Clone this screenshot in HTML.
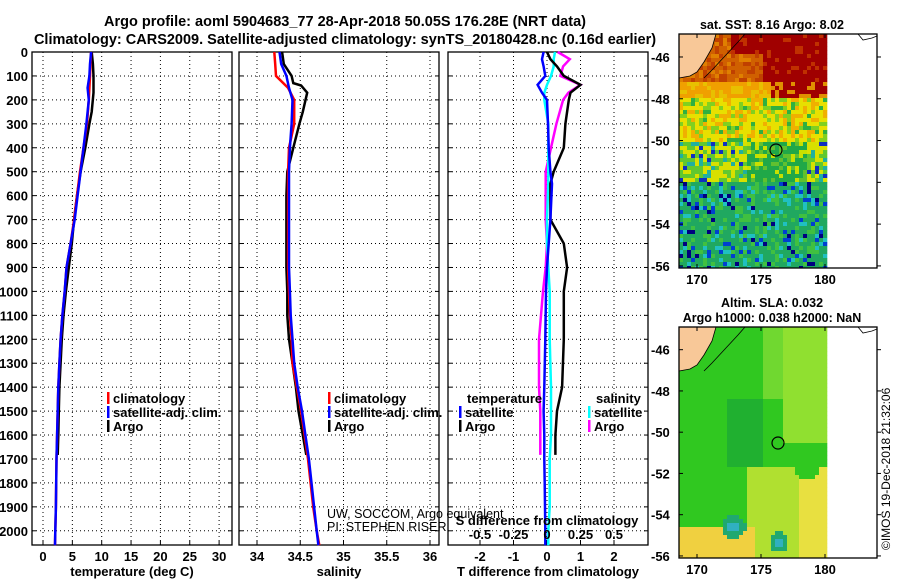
<!DOCTYPE html>
<html><head><meta charset="utf-8">
<style>
html,body{margin:0;padding:0;background:#fff;}
svg{display:block;font-family:"Liberation Sans",Arial,sans-serif;}
</style></head>
<body>
<svg id="fig" width="900" height="580" viewBox="0 0 900 580">
<text font-weight="bold" x="345" y="26" font-size="14.5" text-anchor="middle">Argo profile: aoml 5904683_77 28-Apr-2018 50.05S 176.28E (NRT data)</text>
<text font-weight="bold" x="345" y="44" font-size="14.5" text-anchor="middle">Climatology: CARS2009. Satellite-adjusted climatology: synTS_20180428.nc (0.16d earlier)</text>
<g id="plots"></g>
<g id="maps"></g>
<text x="890" y="550" font-size="12" transform="rotate(-90 890 550)">©IMOS 19-Dec-2018 21:32:06</text>
</svg>
<script>
// ---- data ----
const depthTicks=[0,100,200,300,400,500,600,700,800,900,1000,1100,1200,1300,1400,1500,1600,1700,1800,1900,2000];
const tTicks=[0,5,10,15,20,25,30];
const sTicks=[34,34.5,35,35.5,36];
const dTTicks=[-2,-1,0,1,2];
const dSTicks=[-0.5,-0.25,0,0.25,0.5];
const dSTickLabels=["-0.5","-0.25","0","0.25","0.5"];
const climDepth=[0,50,100,150,200,300,400,500,600,700,800,900,1000,1100,1200,1300,1400,1500,1600,1700,1800,1900,2000,2060];
const tempClim=[8.2,8.1,8.0,7.9,7.8,7.5,6.9,6.3,5.8,5.3,4.7,4.0,3.7,3.3,3.0,2.8,2.6,2.5,2.4,2.3,2.25,2.2,2.1,2.05];
const tempSat=[8.2,8.0,7.9,7.6,7.8,7.4,6.9,6.4,5.9,5.4,4.7,4.0,3.7,3.3,3.0,2.8,2.6,2.5,2.4,2.3,2.25,2.2,2.1,2.05];
const salClim=[34.2,34.21,34.22,34.36,34.43,34.43,34.37,34.36,34.36,34.36,34.36,34.36,34.37,34.38,34.4,34.41,34.46,34.51,34.55,34.59,34.62,34.65,34.69,34.72];
const salSat=[34.26,34.28,34.34,34.37,34.41,34.4,34.38,34.37,34.37,34.37,34.37,34.37,34.38,34.39,34.41,34.43,34.47,34.52,34.56,34.6,34.63,34.66,34.69,34.71];
const argoDepth=[0,50,100,130,140,170,250,300,400,500,600,700,800,900,1000,1100,1200,1300,1400,1500,1600,1683];
const tempArgo=[8.3,8.5,8.6,8.6,8.6,8.6,8.3,7.9,7.2,6.4,5.8,5.3,4.9,4.4,3.9,3.5,3.2,3.0,2.8,2.7,2.6,2.5];
const salArgo=[34.29,34.31,34.4,34.42,34.51,34.58,34.53,34.49,34.42,34.35,34.34,34.34,34.34,34.34,34.35,34.35,34.37,34.41,34.45,34.48,34.53,34.57];
const diffDepth=[0,30,60,100,137,170,200,300,400,500,550,700,800,900,1000,1200,1400,1500,1600,1683];
const dTargo=[0,0.1,0.3,0.5,1.0,0.7,0.65,0.55,0.5,0.2,0.1,0.1,0.5,0.6,0.5,0.5,0.45,0.3,0.25,0.25];
const dSargo=[0.08,0.17,0.12,0.1,0.25,0.16,0.12,0.07,0.03,-0.01,-0.01,-0.01,0,-0.01,-0.03,-0.06,-0.06,-0.05,-0.05,-0.05];
const satDiffDepth=[0,30,60,100,137,170,200,300,400,500,550,700,800,900,1000,1200,1400,1500,1600,1700,1800,1900,2000,2060];
const dTsat=[-0.1,-0.15,-0.1,-0.05,-0.28,-0.15,0,0.03,0.05,0.1,0.15,0.1,0.05,0,-0.03,-0.05,-0.08,-0.1,-0.08,-0.08,-0.07,-0.06,-0.05,-0.05];
const dSsat=[0.06,0.05,0.05,0.03,0.0,-0.02,-0.02,0.01,0.01,0.01,0.01,0.0,0.0,0.01,0.02,0.02,0.03,0.03,0.03,0.02,0.02,0.02,0.01,0.01];
const lonTicks=[170,175,180];
const latTicks=[-46,-48,-50,-52,-54,-56];

const NS="http://www.w3.org/2000/svg";
function mk(tag,attrs,parent){const e=document.createElementNS(NS,tag);for(const k in attrs)e.setAttribute(k,attrs[k]);parent.appendChild(e);return e;}
const plots=document.getElementById('plots');
const TOP=52,BOT=545;
const yD=d=>TOP+d*0.2394;
const xT=t=>43+5.87*t;
const xS=s=>257+86.5*(s-34);
const xDT=t=>547+33.5*t;
const xDS=s=>547+134*s;

function panel(name,L,R,ticks,xf,xlabel,showDepth){
  const g=mk('g',{},plots);
  
  
  depthTicks.forEach(d=>{
    const y=yD(d);
    const l=mk('line',{x1:L,x2:R,y1:y,y2:y,stroke:'#000','stroke-width':1,'stroke-dasharray':'1,3'},g);
    
    
    mk('line',{x1:L,x2:L+4,y1:y,y2:y,stroke:'#000'},g);
    mk('line',{x1:R-4,x2:R,y1:y,y2:y,stroke:'#000'},g);
    if(showDepth){
      const t=mk('text',{x:L-4,y:y+5,'font-size':13,'font-weight':'bold','text-anchor':'end'},g);
      t.textContent=d;
      
      
    }
  });
  ticks.forEach(v=>{
    const x=xf(v);
    const l=mk('line',{x1:x,x2:x,y1:TOP,y2:BOT,stroke:'#000','stroke-dasharray':'1,3'},g);
    
    
    mk('line',{x1:x,x2:x,y1:BOT-4,y2:BOT,stroke:'#000'},g);
    const t=mk('text',{x:x,y:BOT+16,'font-size':13,'font-weight':'bold','text-anchor':'middle'},g);
    t.textContent=v;
    
    
  });
  const r=mk('rect',{x:L,y:TOP,width:R-L,height:BOT-TOP,fill:'none',stroke:'#000','stroke-width':1.3},g);
  
  
  const xl=mk('text',{x:(L+R)/2,y:576,'font-size':13,'font-weight':'bold','text-anchor':'middle'},g);
  xl.textContent=xlabel;
  
  
  return g;
}
function line(g,depths,vals,xf,color,name){
  const pts=depths.map((d,i)=>xf(vals[i]).toFixed(1)+','+yD(d).toFixed(1)).join(' ');
  const p=mk('polyline',{points:pts,fill:'none',stroke:color,'stroke-width':2.5},g);
  
  
}
function legend(g,x,y,items,header){
  if(header){const h=mk('text',{x:x+8,y:y,'font-size':13,'font-weight':'bold'},g);h.textContent=header;y+=14;}
  items.forEach(it=>{
    mk('rect',{x:x,y:y-11,width:2.5,height:12,fill:it[1]},g);
    const t=mk('text',{x:x+6,y:y,'font-size':13,'font-weight':'bold'},g);
    t.textContent=it[0];
    
    
    y+=14;
  });
}
const p1=panel('temperature-panel',32,232,tTicks,xT,'temperature (deg C)',true);
line(p1,argoDepth,tempArgo,xT,'#000','temp-argo-line');
line(p1,climDepth,tempClim,xT,'#f00','temp-climatology-line');
line(p1,climDepth,tempSat,xT,'#00f','temp-satellite-line');
legend(p1,107,403,[['climatology','#f00'],['satellite-adj. clim.','#00f'],['Argo','#000']]);

const p2=panel('salinity-panel',239,439,sTicks,xS,'salinity',false);
line(p2,argoDepth,salArgo,xS,'#000','sal-argo-line');
line(p2,climDepth,salClim,xS,'#f00','sal-climatology-line');
line(p2,climDepth,salSat,xS,'#00f','sal-satellite-line');
legend(p2,328,403,[['climatology','#f00'],['satellite-adj. clim.','#00f'],['Argo','#000']]);
const c1=mk('text',{x:327,y:518,'font-size':12.5},p2);c1.textContent='UW, SOCCOM, Argo equivalent';

const c2=mk('text',{x:327,y:531,'font-size':12.5},p2);c2.textContent='PI: STEPHEN RISER';

const p3=panel('difference-panel',448,648,dTTicks,xDT,'T difference from climatology',false);
line(p3,diffDepth,dSargo,xDS,'#f0f','s-diff-argo-line');
line(p3,satDiffDepth,dSsat,xDS,'#0ff','s-diff-satellite-line');
line(p3,diffDepth,dTargo,xDT,'#000','t-diff-argo-line');
line(p3,satDiffDepth,dTsat,xDT,'#00f','t-diff-satellite-line');
legend(p3,459,403,[['satellite','#00f'],['Argo','#000']],'temperature');
legend(p3,588,403,[['satellite','#0ff'],['Argo','#f0f']],'salinity');
const sd=mk('text',{x:547,y:525,'font-size':13,'font-weight':'bold','text-anchor':'middle'},p3);sd.textContent='S difference from climatology';

dSTicks.forEach((v,i)=>{const t=mk('text',{x:xDS(v),y:539,'font-size':13,'font-weight':'bold','text-anchor':'middle'},p3);t.textContent=dSTickLabels[i];
});

// ---- maps ----
const maps=document.getElementById('maps');
function hash(a,b){let h=(a*374761393+b*668265263)^0x5bd1e995;h=(h^(h>>>13))*1274126177;return ((h^(h>>>16))>>>0)/4294967296;}
function mapPanel(name,top,bot,titles,cellColor,cx,cy){
  const g=mk('g',{},maps);
  
  
  const L=679,R=877,DR=826;
  const latY=lat=>top+(-44.9-lat)*(bot-top)/11.2;
  const lonX=lon=>697+(lon-170)*12.8;
  titles.forEach((t,i)=>{const e=mk('text',{x:772,y:top-(titles.length-i)*15+10,'font-size':12.5,'font-weight':'bold','text-anchor':'middle'},g);e.textContent=t;
    });
  const cs=4;
  for(let y=top;y<bot;y+=cs){for(let x=L;x<DR;x+=cs){
    mk('rect',{x:x,y:y,width:cs+0.3,height:Math.min(cs+0.3,bot-y),fill:cellColor((x-L)/(DR-L),(y-top)/(bot-top),x,y)},g);
  }}
  mk('path',{d:`M${L},${top} L716,${top} L712,${top+14} L704,${top+28} L697,${top+38} L690,${top+42} L679,${top+44} Z`,fill:'#f8c898',stroke:'#000','stroke-width':0.8},g);
  mk('path',{d:`M716,${top} L745,${top} L738,${top+8} L725,${top+22} L712,${top+36} L704,${top+44}`,fill:'none',stroke:'#000','stroke-width':0.8},g);
  mk('path',{d:`M858,${top} L863,${top+6} L872,${top+4} L877,${top+2}`,fill:'none',stroke:'#000','stroke-width':0.8},g);
  const ring=mk('circle',{cx:cx,cy:cy,r:6,fill:'none',stroke:'#000','stroke-width':1.2},g);
  
  mk('rect',{x:L,y:top,width:R-L,height:bot-top,fill:'none',stroke:'#000','stroke-width':1.3},g);
  latTicks.forEach(l=>{const y=latY(l);mk('line',{x1:R,x2:R+4,y1:y,y2:y,stroke:'#000'},g);mk('line',{x1:L,x2:L+4,y1:y,y2:y,stroke:'#000'},g);
    const lt=mk('text',{x:651,y:y+5,'font-size':13,'font-weight':'bold'},g);lt.textContent=l;
    
  });
  lonTicks.forEach(l=>{const x=lonX(l);mk('line',{x1:x,x2:x,y1:bot-4,y2:bot,stroke:'#000'},g);mk('line',{x1:x,x2:x,y1:top,y2:top+4,stroke:'#000'},g);
    const t=mk('text',{x:x,y:bot+16,'font-size':13,'font-weight':'bold','text-anchor':'middle'},g);t.textContent=l;
    });
}
function sstColor(fx,fy,x,y){
  const h=hash(x,y);
  if(fy<0.2){ if(fx>0.55||fy<0.08&&fx>0.35) return h<0.85?'#a00000':'#c03000'; return h<0.5?'#d06000':(h<0.8?'#c04000':'#e08000');}
  if(fy<0.27){ if(fx>0.6) return h<0.6?'#a00000':'#e09000'; return h<0.6?'#f0a000':'#e8c000';}
  if(fy<0.45){ return h<0.55?'#e8e000':(h<0.75?'#f0b000':(h<0.92?'#80d020':'#30b040'));}
  if(fy<0.62){ if(fx>0.45&&fx<0.85) return h<0.6?'#20a848':(h<0.85?'#60c030':'#c8e000'); return h<0.45?'#d8e000':(h<0.8?'#60c830':(h<0.93?'#20b0a0':'#1030c0'));}
  return h<0.55?'#20a860':(h<0.75?'#40c040':(h<0.87?'#20c0c0':(h<0.95?'#0040d0':'#000080')));
}
function slaColor(fx,fy,x,y){
  const d1=Math.hypot(x-732,y-525),d2=Math.hypot(x-777,y-540);
  if(d1<12||d2<10) return d1<6||d2<5?'#30b0c0':'#20a870';
  if(fy>0.85&&fx<0.5) return '#f0d040';
  if(fy>0.6&&fx>0.45&&!(Math.hypot(x-805,y-465)<12)) return fx>0.8?'#e8e040':'#b0e030';
  if(fx>0.7&&fy<0.5) return '#90e030';
  if(fx>0.55&&fy<0.3) return '#70d830';
  return (fx>0.3&&fx<0.55&&fy>0.3&&fy<0.6)?'#20b030':'#30c820';
}
mapPanel('sst-map',34,268,['sat. SST: 8.16 Argo: 8.02'],sstColor,776,150);
mapPanel('sla-map',327,558,['Altim. SLA: 0.032','Argo h1000: 0.038 h2000: NaN'],slaColor,778,443);
</script>
</body></html>
